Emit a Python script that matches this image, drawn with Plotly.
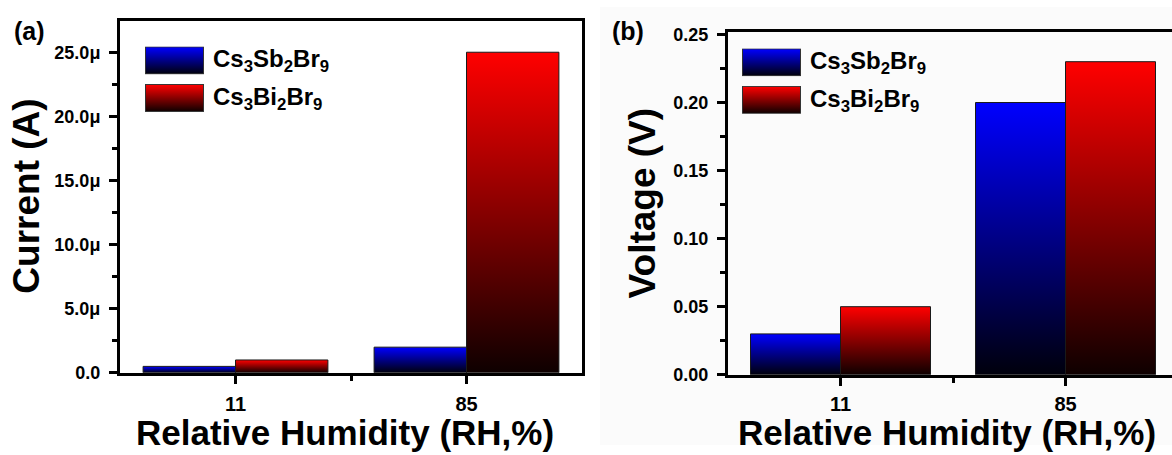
import base64
import plotly.graph_objects as go

# ---- data -------------------------------------------------------------
humidity = ["11", "85"]                      # relative humidity, %
series_names = ["Cs<sub>3</sub>Sb<sub>2</sub>Br<sub>9</sub>",
                "Cs<sub>3</sub>Bi<sub>2</sub>Br<sub>9</sub>"]
current_sb = [0.5e-6, 2.0e-6]                # A
current_bi = [1.0e-6, 25.0e-6]               # A
voltage_sb = [0.03, 0.20]                    # V
voltage_bi = [0.05, 0.23]                    # V

current_ticks = [0, 5e-6, 10e-6, 15e-6, 20e-6, 25e-6]
current_ticktext = ["0.0", "5.0μ", "10.0μ", "15.0μ", "20.0μ", "25.0μ"]
voltage_ticks = [0.0, 0.05, 0.10, 0.15, 0.20, 0.25]
voltage_ticktext = ["0.00", "0.05", "0.10", "0.15", "0.20", "0.25"]

# ---- styling ----------------------------------------------------------
W, H = 1172, 455
FONT = "Liberation Sans, Arial, sans-serif"
TOP_COLORS = ["#0000ff", "#ff0000"]
BOTTOM_COLORS = ["#00000c", "#0e0000"]
BAR_W = 0.4


def px(x):
    return x / W


def py(y):
    return 1 - y / H


fig = go.Figure()


def add_bars(values_by_series, xa, ya):
    """Grouped bars drawn as filled outlines with a vertical colour ramp."""
    n = len(values_by_series)
    for s, vals in enumerate(values_by_series):
        for i, v in enumerate(vals):
            x0 = i - BAR_W * n / 2 + s * BAR_W
            x1 = x0 + BAR_W
            fig.add_trace(go.Scatter(
                x=[x0, x1, x1, x0, x0], y=[0, 0, v, v, 0],
                xaxis=xa, yaxis=ya, mode="lines", fill="toself",
                fillgradient=dict(type="vertical",
                                  colorscale=[[0, BOTTOM_COLORS[s]],
                                              [1, TOP_COLORS[s]]]),
                line=dict(color="#1a1a1a", width=1),
                showlegend=False, hoverinfo="skip"))


add_bars([current_sb, current_bi], "x", "y")
add_bars([voltage_sb, voltage_bi], "x2", "y2")

axis_common = dict(
    showgrid=False, zeroline=False, showline=True, linecolor="black",
    linewidth=3, ticks="outside", ticklen=8, tickwidth=2.5,
    tickcolor="black",
)
X_TICKFONT = dict(family=FONT, size=20, color="black", weight="bold")
Y_TICKFONT = dict(family=FONT, size=18, color="black", weight="bold")
x_minor = dict(tickmode="array", tickvals=[0.5], ticklen=5, tickwidth=2.5,
               tickcolor="black", ticks="outside")

# panel (a)
fig.update_layout(
    xaxis=dict(**axis_common, domain=[px(120), px(582)], range=[-0.5, 1.5],
               tickmode="array", tickvals=list(range(len(humidity))),
               ticktext=humidity, tickfont=X_TICKFONT, ticklabelstandoff=3,
               mirror=True, minor=x_minor, anchor="y"),
    yaxis=dict(**axis_common, domain=[py(380), py(15)], range=[0, 27.4e-6],
               tickmode="array", tickvals=current_ticks,
               ticktext=current_ticktext, tickfont=Y_TICKFONT,
               mirror=True, ticklabelstandoff=5,
               minor=dict(dtick=2.5e-6, tick0=0, ticklen=5, tickwidth=2.5,
                          tickcolor="black", ticks="outside"),
               anchor="x"),
)

# panel (b)
fig.update_layout(
    xaxis2=dict(**axis_common, domain=[px(728), 1.0],
                range=[-0.5, -0.5 + (W - 728) / 225.0],
                tickmode="array", tickvals=list(range(len(humidity))),
                ticktext=humidity, tickfont=X_TICKFONT, ticklabelstandoff=1,
                mirror=True, minor=x_minor, anchor="y2"),
    yaxis2=dict(**axis_common, domain=[py(382), py(26)], range=[0, 0.2518],
                tickmode="array", tickvals=voltage_ticks,
                ticktext=voltage_ticktext, tickfont=Y_TICKFONT,
                mirror=False, ticklabelstandoff=5,
                minor=dict(dtick=0.025, tick0=0, ticklen=5, tickwidth=2.5,
                           tickcolor="black", ticks="outside"),
                anchor="x2"),
)


def gradient_swatch(top, bottom, w=59, h=29):
    svg = (
        f'<svg xmlns="http://www.w3.org/2000/svg" width="{w}" height="{h}">'
        '<defs><linearGradient id="g" x1="0" y1="0" x2="0" y2="1">'
        f'<stop offset="0" stop-color="{top}"/>'
        f'<stop offset="1" stop-color="{bottom}"/>'
        '</linearGradient></defs>'
        f'<rect x="0.5" y="0.5" width="{w - 1}" height="{h - 1}" '
        'fill="url(#g)" stroke="#333333" stroke-width="1"/></svg>'
    )
    return "data:image/svg+xml;base64," + base64.b64encode(svg.encode()).decode()


images = []
annotations = []

# legend keys for both panels
legend_spots = [(145, [41, 80]), (742, [43, 82])]
for lx, tops in legend_spots:
    for s, ty in enumerate(tops):
        images.append(dict(
            source=gradient_swatch(TOP_COLORS[s], BOTTOM_COLORS[s]),
            xref="paper", yref="paper", x=px(lx), y=py(ty),
            sizex=px(59), sizey=29 / H, xanchor="left", yanchor="top",
            sizing="stretch", layer="above"))
        annotations.append(dict(
            text=f"<b>{series_names[s]}</b>", xref="paper", yref="paper",
            x=px(lx + 66), y=py(ty + 15), xanchor="left", yanchor="middle",
            showarrow=False,
            font=dict(family=FONT, size=24, color="black")))

# axis titles and panel tags
title_font = dict(family=FONT, color="black", weight="bold")
for cx in (345, 947):
    annotations.append(dict(
        text="Relative Humidity (RH,%)", xref="paper", yref="paper",
        x=px(cx), y=py(442), xanchor="center", yanchor="middle",
        showarrow=False, font=dict(**title_font, size=35)))
annotations.append(dict(
    text="Current (A)", xref="paper", yref="paper", x=px(27), y=py(197),
    textangle=-90, xanchor="center", yanchor="middle", showarrow=False,
    font=dict(**title_font, size=37)))
annotations.append(dict(
    text="Voltage (V)", xref="paper", yref="paper", x=px(642), y=py(204),
    textangle=-90, xanchor="center", yanchor="middle", showarrow=False,
    font=dict(**title_font, size=37)))
for tag, tx in (("(a)", 29), ("(b)", 628)):
    annotations.append(dict(
        text=tag, xref="paper", yref="paper", x=px(tx), y=py(25),
        xanchor="center", yanchor="middle", showarrow=False,
        font=dict(**title_font, size=25)))

fig.update_layout(
    width=W, height=H, margin=dict(l=0, r=0, t=0, b=0),
    paper_bgcolor="white", plot_bgcolor="rgba(0,0,0,0)",
    showlegend=False, images=images, annotations=annotations,
    shapes=[dict(type="rect", xref="paper", yref="paper", x0=px(600), x1=1,
                 y0=0, y1=1, fillcolor="#fbfbfb", line=dict(width=0),
                 layer="below")],
)

fig.write_html("out.html")
